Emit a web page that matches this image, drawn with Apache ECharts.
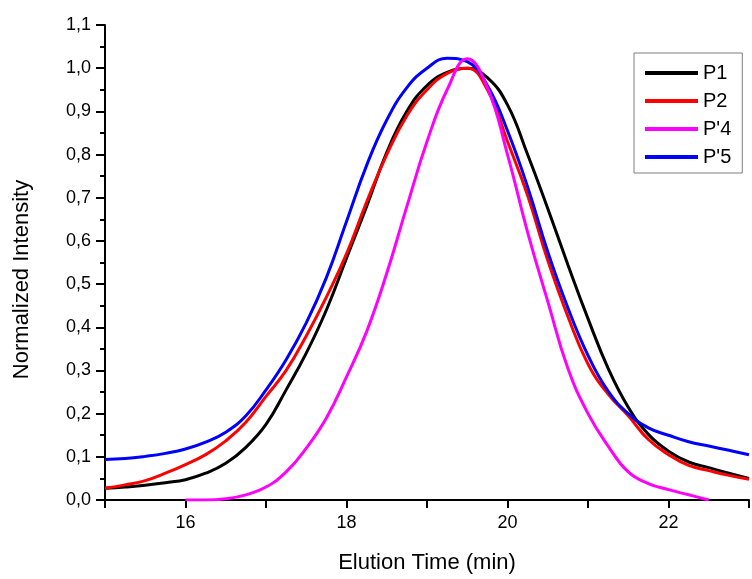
<!DOCTYPE html>
<html>
<head>
<meta charset="utf-8">
<script src="https://cdn.jsdelivr.net/npm/echarts@6/dist/echarts.min.js"></script>
<style>
html,body{margin:0;padding:0;background:#fff;}
#chart{width:752px;height:579px;}
</style>
</head>
<body>
<div id="chart"></div>
<script>
// Elution time (min)
var times = [15.00,15.25,15.50,15.75,16.00,16.25,16.50,16.75,17.00,17.25,17.50,17.75,18.00,18.25,18.50,18.75,19.00,19.25,19.50,19.75,20.00,20.25,20.50,20.75,21.00,21.25,21.50,21.75,22.00,22.25,22.50,22.75,23.00];
var p1  = [0.027,0.030,0.034,0.040,0.047,0.062,0.085,0.122,0.175,0.255,0.340,0.440,0.560,0.680,0.805,0.900,0.960,0.990,1.000,0.978,0.915,0.800,0.675,0.545,0.420,0.305,0.215,0.152,0.113,0.088,0.075,0.062,0.050];
var p2  = [0.027,0.035,0.045,0.062,0.082,0.105,0.137,0.180,0.240,0.300,0.380,0.470,0.570,0.690,0.800,0.890,0.950,0.988,1.000,0.950,0.830,0.705,0.555,0.425,0.315,0.245,0.195,0.140,0.105,0.080,0.068,0.057,0.048];
var p4  = [null,null,null,null,0.000,0.000,0.003,0.012,0.030,0.065,0.120,0.190,0.285,0.390,0.525,0.680,0.830,0.950,1.022,0.955,0.800,0.620,0.460,0.305,0.200,0.125,0.065,0.038,0.024,0.012,0.000,null,null];
var p5  = [0.094,0.096,0.101,0.108,0.118,0.134,0.157,0.195,0.255,0.325,0.410,0.515,0.645,0.775,0.880,0.955,1.000,1.023,1.015,0.960,0.855,0.725,0.575,0.445,0.335,0.252,0.200,0.167,0.150,0.135,0.125,0.115,0.105];
var seriesNames = ['P1','P2',"P'4","P'5"];
var seriesColors = ['#000000','#ff0000','#ff00ff','#0000ff'];
var xTitle = 'Elution Time (min)';
var yTitle = 'Normalized Intensity';

function pairs(vals){
  var out = [];
  for (var i = 0; i < times.length; i++) {
    if (vals[i] !== null) out.push([times[i], vals[i]]);
  }
  return out;
}
var allVals = [p1, p2, p4, p5];
var zs = [2, 3, 5, 4];
var series = allVals.map(function(v, i){
  return {
    name: seriesNames[i], type: 'line', data: pairs(v), smooth: 0.45,
    symbol: 'none', z: zs[i],
    lineStyle: {color: seriesColors[i], width: 3},
    itemStyle: {color: seriesColors[i]}
  };
});

var font = '"Liberation Sans", Arial, sans-serif';
var chart = echarts.init(document.getElementById('chart'), null, {renderer: 'canvas'});
chart.setOption({
  backgroundColor: '#ffffff',
  animation: false,
  grid: {left: 105, top: 25, width: 652, height: 482, containLabel: false},
  xAxis: {
    type: 'value', min: 15, max: 23, interval: 1,
    name: xTitle, nameLocation: 'middle', nameGap: 52,
    nameTextStyle: {fontFamily: font, fontSize: 22, color: '#000'},
    axisLine: {show: true, onZero: false, lineStyle: {color: '#000', width: 2}},
    axisTick: {show: true, inside: false, length: 8, lineStyle: {color: '#000', width: 2}},
    axisLabel: {
      margin: 14, fontFamily: font, fontSize: 18, color: '#000',
      formatter: function(v){ return (Math.round(v) % 2 === 0) ? String(Math.round(v)) : ''; }
    },
    splitLine: {show: false}
  },
  yAxis: {
    type: 'value', min: 0, max: 1.1, interval: 0.1,
    name: yTitle, nameLocation: 'middle', nameGap: 72,
    nameTextStyle: {fontFamily: font, fontSize: 22, color: '#000', padding: [0, 34, 0, 0]},
    axisLine: {show: true, lineStyle: {color: '#000', width: 2}},
    axisTick: {show: true, inside: false, length: 9, lineStyle: {color: '#000', width: 2}},
    minorTick: {show: true, splitNumber: 2, length: 5, lineStyle: {color: '#000', width: 2}},
    axisLabel: {
      margin: 14, fontFamily: font, fontSize: 18, color: '#000',
      formatter: function(v){ return v.toFixed(1).replace('.', ','); }
    },
    splitLine: {show: false}
  },
  legend: {
    show: true, orient: 'vertical', left: 634, top: 53,
    data: seriesNames,
    icon: 'rect', itemWidth: 53, itemHeight: 4, itemGap: 8,
    padding: [10, 11, 6, 11],
    borderColor: '#7f7f7f', borderWidth: 1, backgroundColor: '#ffffff',
    textStyle: {fontFamily: font, fontSize: 20, color: '#000', lineHeight: 20}
  },
  series: series
});
</script>
</body>
</html>
